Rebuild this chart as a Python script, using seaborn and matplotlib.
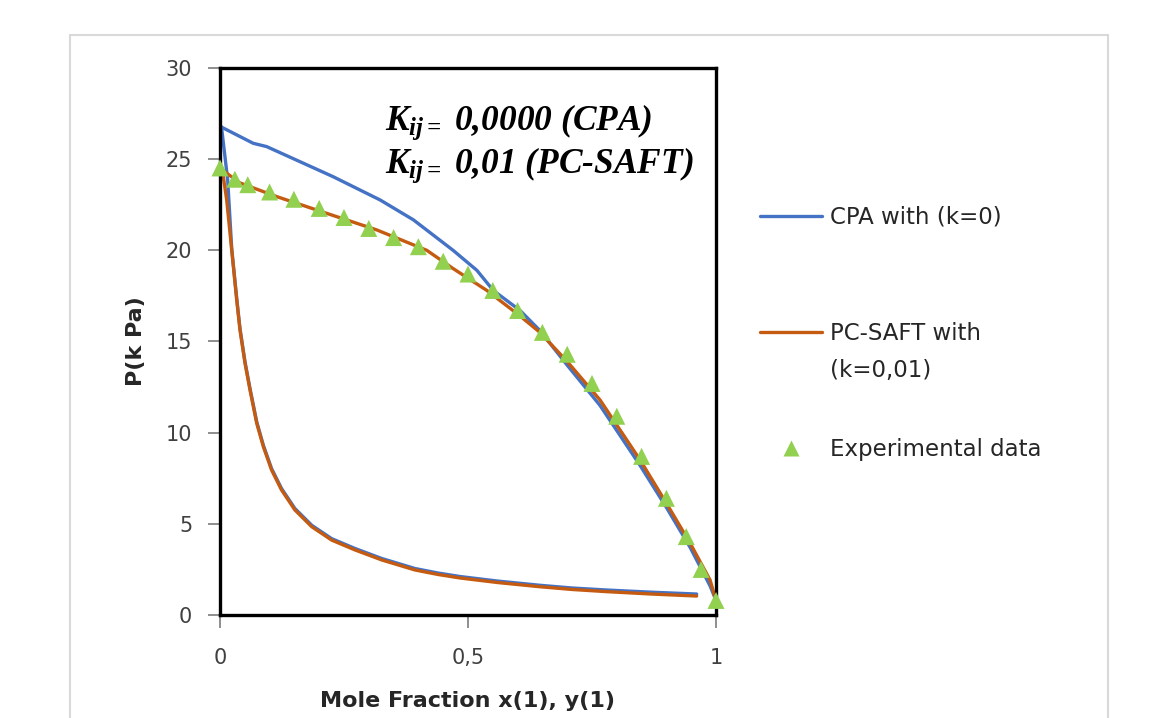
import numpy as np
import pandas as pd
import matplotlib
matplotlib.use("Agg")
import matplotlib.pyplot as plt
import seaborn as sns
from matplotlib.lines import Line2D
from matplotlib.patches import Rectangle

# ---------------- data ----------------
# CPA (k=0) bubble curve
cpa_bub_x = [0.0, 0.067, 0.094, 0.228, 0.323, 0.39, 0.47, 0.518, 0.551, 0.605,
             0.645, 0.70, 0.766, 0.847, 0.90, 0.948, 0.988, 1.0]
cpa_bub_p = [26.8, 25.87, 25.69, 24.04, 22.76, 21.67, 20.0, 18.9, 17.8, 16.7,
             15.6, 13.7, 11.5, 8.2, 5.9, 3.7, 1.6, 0.8]
# CPA (k=0) dew curve
cpa_dew_x = [0.0, 0.003, 0.0155, 0.0236, 0.0337, 0.0403, 0.0504, 0.0605, 0.074,
             0.0874, 0.104, 0.124, 0.151, 0.185, 0.225, 0.272, 0.326, 0.393,
             0.44, 0.484, 0.56, 0.645, 0.71, 0.78, 0.87, 0.961]
cpa_dew_p = [26.8, 26.77, 23.86, 20.1, 17.36, 15.71, 13.89, 12.42, 10.6,
             9.31, 8.03, 6.94, 5.84, 4.92, 4.19, 3.65, 3.1, 2.55,
             2.3, 2.11, 1.86, 1.63, 1.48, 1.37, 1.25, 1.15]
# PC-SAFT (k=0,01) bubble curve
pcs_bub_x = [0.0, 0.04, 0.114, 0.215, 0.316, 0.417, 0.47, 0.538, 0.605, 0.645,
             0.70, 0.766, 0.847, 0.90, 0.948, 0.988, 1.0]
pcs_bub_p = [24.5, 23.7, 22.95, 22.03, 21.12, 20.0, 19.0, 17.8, 16.4, 15.5,
             13.9, 11.8, 8.5, 6.13, 3.93, 1.92, 0.8]
# PC-SAFT (k=0,01) dew curve
pcs_dew_x = [0.0, 0.0067, 0.0135, 0.0236, 0.0337, 0.0403, 0.0504, 0.0605, 0.074,
             0.0874, 0.104, 0.124, 0.151, 0.185, 0.225, 0.272, 0.326, 0.393,
             0.44, 0.484, 0.56, 0.645, 0.71, 0.78, 0.87, 0.961]
pcs_dew_p = [24.52, 24.04, 22.76, 20.02, 17.28, 15.63, 13.81, 12.34, 10.52,
             9.23, 7.95, 6.86, 5.76, 4.84, 4.11, 3.57, 3.02, 2.47,
             2.22, 2.03, 1.78, 1.55, 1.40, 1.28, 1.15, 1.04]
# Experimental data
exp_x = [0.0, 0.03, 0.056, 0.10, 0.149, 0.20, 0.25, 0.30, 0.35, 0.40, 0.45, 0.50,
         0.55, 0.60, 0.65, 0.70, 0.75, 0.80, 0.85, 0.90, 0.94, 0.97, 1.0]
exp_p = [24.52, 23.9, 23.6, 23.2, 22.8, 22.3, 21.8, 21.2, 20.7, 20.2, 19.4, 18.7,
         17.8, 16.7, 15.5, 14.3, 12.7, 10.9, 8.7, 6.4, 4.3, 2.5, 0.8]

legend_labels = ["CPA with (k=0)", "PC-SAFT with", "(k=0,01)", "Experimental data"]
annot_lines = [r"$K_{ij=}$ 0,0000 (CPA)", r"$K_{ij=}$ 0,01 (PC-SAFT)"]
x_ticks = [0, 0.5, 1]
x_ticklabels = ["0", "0,5", "1"]
y_ticks = [0, 5, 10, 15, 20, 25, 30]

BLUE = "#4472C4"
ORANGE = "#C55A11"
GREEN = "#92D050"

# ---------------- style ----------------
sns.set_theme(style="white")
plt.rcParams["font.family"] = ["DejaVu Sans"]
plt.rcParams["mathtext.fontset"] = "custom"
plt.rcParams["mathtext.it"] = "Liberation Serif:italic:bold"
plt.rcParams["mathtext.rm"] = "Liberation Serif:italic:bold"
plt.rcParams["mathtext.bf"] = "Liberation Serif:italic:bold"

fig = plt.figure(figsize=(11.66, 7.18), dpi=100)
ax = fig.add_axes([220 / 1166, 1 - 615 / 718, 496 / 1166, 547 / 718])

# outer chart-area frame
fig.patches.append(Rectangle((70 / 1166, -0.1), 1038 / 1166, 1 - 35 / 718 + 0.1,
                             transform=fig.transFigure, fill=False,
                             edgecolor="#D9D9D9", linewidth=1.5))

lw = 2.4
curves = [
    (cpa_bub_x, cpa_bub_p, BLUE), (cpa_dew_x, cpa_dew_p, BLUE),
    (pcs_bub_x, pcs_bub_p, ORANGE), (pcs_dew_x, pcs_dew_p, ORANGE),
]
for xs, ps, col in curves:
    df = pd.DataFrame({"x": xs, "P": ps})
    sns.lineplot(data=df, x="x", y="P", sort=False, estimator=None, color=col,
                 linewidth=lw, ax=ax, legend=False)

df_exp = pd.DataFrame({"x": exp_x, "P": exp_p})
sns.scatterplot(data=df_exp, x="x", y="P", marker="^", s=150, color=GREEN,
                edgecolor="none", ax=ax, legend=False, zorder=5, clip_on=False)

ax.set_xlim(0, 1)
ax.set_ylim(0, 30)
ax.set_xticks(x_ticks)
ax.set_xticklabels(x_ticklabels)
ax.set_yticks(y_ticks)
for sp in ax.spines.values():
    sp.set_color("black")
    sp.set_linewidth(2.4)
    sp.set_visible(True)
ax.tick_params(axis="both", which="major", direction="out", length=9, width=1.3,
               color="#868686", labelsize=15, labelcolor="#404040",
               bottom=True, left=True)
ax.tick_params(axis="y", pad=11)
ax.tick_params(axis="x", pad=15)
ax.set_xlabel("Mole Fraction x(1), y(1)", fontsize=16, fontweight="bold",
              color="#262626", labelpad=16)
ax.set_ylabel("P(k Pa)", fontsize=16, fontweight="bold", color="#262626",
              labelpad=14)
ax.grid(False)

# annotation
for txt, yb in zip(annot_lines, [0.887, 0.808]):
    ax.text(0.333, yb, txt, transform=ax.transAxes, fontsize=25.5,
            family="Liberation Serif", fontweight="bold", fontstyle="italic",
            va="baseline", ha="left", color="black")

# legend
LFS = 16.5
handles = [Line2D([], [], color=BLUE, lw=2.4),
           Line2D([], [], color=ORANGE, lw=2.4),
           Line2D([], [], color=GREEN, lw=0, marker="^", markersize=11,
                  markeredgecolor="none")]
leg = fig.legend(handles, [legend_labels[0], legend_labels[1], legend_labels[3]],
                 loc="upper left", bbox_to_anchor=(760 / 1166, 1 - 206 / 718),
                 frameon=False, fontsize=LFS, handlelength=2.7,
                 handletextpad=0.35, labelspacing=4.05, borderpad=0,
                 borderaxespad=0, labelcolor="#262626")
fig.text(830 / 1166, 1 - 371 / 718, legend_labels[2], fontsize=LFS,
         color="#262626", va="center", ha="left")

fig.savefig("out.png", dpi=100)
